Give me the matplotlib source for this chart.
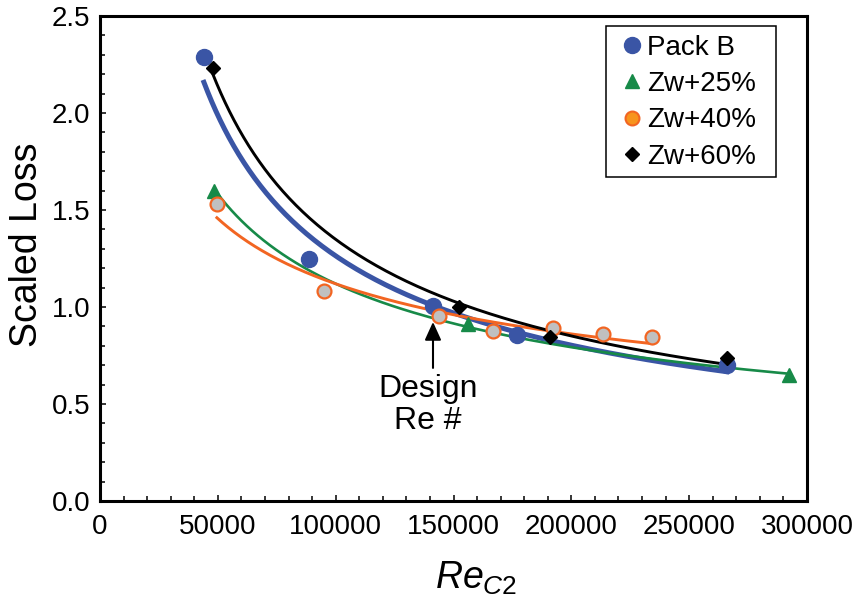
import numpy as np
import matplotlib
matplotlib.use("Agg")
import matplotlib.pyplot as plt
from matplotlib.lines import Line2D
from matplotlib.patches import Rectangle
from matplotlib.ticker import MultipleLocator

plt.rcParams['font.family'] = ['Liberation Sans', 'DejaVu Sans']
plt.rcParams['mathtext.fontset'] = 'custom'
plt.rcParams['mathtext.it'] = 'Liberation Sans:italic'
plt.rcParams['mathtext.rm'] = 'Liberation Sans'

# values
re_packb = [44100, 88700, 141300, 176900, 266000]
loss_packb = [2.29, 1.25, 1.005, 0.856, 0.70]
re_25 = [48400, 156100, 292300]
loss_25 = [1.60, 0.91, 0.65]
re_40 = [49600, 95000, 143800, 166700, 192200, 213400, 234200]
loss_40 = [1.53, 1.08, 0.955, 0.876, 0.89, 0.86, 0.845]
re_60 = [47900, 152300, 190900, 266000]
loss_60 = [2.23, 1.00, 0.845, 0.735]

labels = ['Pack B', 'Zw+25%', 'Zw+40%', 'Zw+60%']

blue = '#3a55a5'
green = '#178a48'
orange = '#f26522'
orange_fill = '#f7941d'
gray = '#c0c0c0'


def power_fit(x, y):
    # power-law trend line, y = a * x^b
    b, lna = np.polyfit(np.log(x), np.log(y), 1)
    xs = np.geomspace(min(x), max(x), 200)
    return xs, np.exp(lna) * xs ** b


fig = plt.figure(figsize=(8.52, 6.03), dpi=100)
ax = fig.add_axes([100 / 852, 1 - 501 / 603, 707 / 852, 485 / 603])

# trend lines
xs, ys = power_fit(re_packb, loss_packb)
ax.plot(xs, ys, color=blue, lw=3.6, zorder=2)
xs, ys = power_fit(re_25, loss_25)
ax.plot(xs, ys, color=green, lw=1.9, zorder=2)
xs, ys = power_fit(re_40, loss_40)
ax.plot(xs, ys, color=orange, lw=2.1, zorder=2)
xs, ys = power_fit(re_60, loss_60)
ax.plot(xs, ys, color='black', lw=2.1, zorder=2)

# data points
ax.plot(re_packb, loss_packb, 'o', color=blue, ms=11.5, mec=blue, zorder=3)
ax.plot(re_25, loss_25, '^', color=green, ms=10.5, mec=green, zorder=3)
ax.plot(re_40, loss_40, 'o', mfc=gray, mec=orange, mew=1.6, ms=10, zorder=4)
ax.plot(re_60, loss_60, 'D', color='black', ms=7.5, zorder=5)

ax.set_xlim(0, 300000)
ax.set_ylim(0, 2.5)
ax.xaxis.set_major_locator(MultipleLocator(50000))
ax.xaxis.set_minor_locator(MultipleLocator(10000))
ax.yaxis.set_major_locator(MultipleLocator(0.5))
ax.yaxis.set_minor_locator(MultipleLocator(0.1))
ax.yaxis.set_major_formatter(matplotlib.ticker.FormatStrFormatter('%.1f'))
ax.tick_params(which='both', direction='in', width=1.1, top=False, right=False)
ax.tick_params(which='major', length=4.5)
ax.tick_params(which='minor', length=3.6)
ax.tick_params(axis='x', labelsize=20, pad=9)
ax.tick_params(axis='y', labelsize=20, pad=7)
for s in ax.spines.values():
    s.set_linewidth(2.2)

ax.set_ylabel('Scaled Loss', fontsize=27, va='center')
ax.yaxis.set_label_coords(-0.103, 0.528)
ax.set_xlabel(r'$\mathit{Re}_{\mathit{C2}}$', fontsize=27, va='center')
ax.xaxis.set_label_coords(0.532, -0.16)

# design point arrow
ax.annotate('', xy=(141300, 0.923), xytext=(141300, 0.686),
            arrowprops=dict(arrowstyle='-|>,head_width=0.25,head_length=0.55',
                            color='black', lw=1.5, shrinkA=0, shrinkB=0,
                            mutation_scale=20), zorder=6)
ax.text(139200, 0.655, 'Design\nRe #', fontsize=23, ha='center', va='top',
        linespacing=1.1)

handles = [
    Line2D([], [], ls='none', marker='o', color=blue, ms=11.5),
    Line2D([], [], ls='none', marker='^', color=green, ms=10),
    Line2D([], [], ls='none', marker='o', mfc=orange_fill, mec=orange, mew=1.5, ms=10),
    Line2D([], [], ls='none', marker='D', color='black', ms=7),
]
leg = ax.legend(handles, labels, loc='upper left', bbox_to_anchor=(0.737, 0.961),
                borderaxespad=0, borderpad=0, fontsize=20, handlelength=0.8,
                handletextpad=0.15, labelspacing=0.37, frameon=False)
# legend box drawn separately to get its padding right
ax.add_patch(Rectangle((0.7157, 0.668), 0.2405, 0.3113, transform=ax.transAxes,
                       fill=False, ec='black', lw=1.1, zorder=6, clip_on=False))

fig.savefig('out.png', dpi=100)
